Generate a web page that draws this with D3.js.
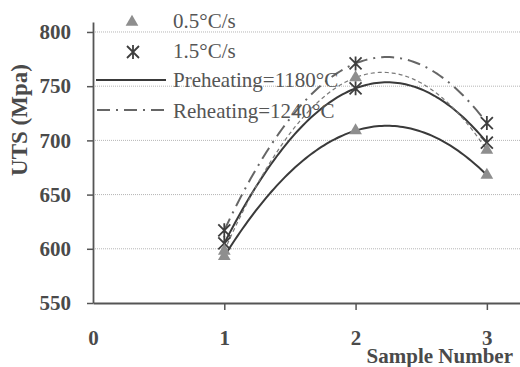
<!DOCTYPE html>
<html><head><meta charset="utf-8">
<script src="https://cdn.jsdelivr.net/npm/d3@7"></script>
<style>
html,body{margin:0;padding:0;background:#fff;}
svg, svg text{font-family:"Liberation Serif","Times New Roman",serif !important;}
</style></head>
<body><svg id="c" width="520" height="367"></svg>
<script>
const samples = [1, 2, 3];
const xTicks = [0, 1, 2, 3];
const yTicks = [550, 600, 650, 700, 750, 800];
const pre05 = [593, 709, 668];
const pre15 = [605, 748, 698];
const re05 = [598, 758, 691];
const re15 = [617, 771, 716];
const legendLabels = ["0.5\u00B0C/s", "1.5\u00B0C/s", "Preheating=1180\u00B0C", "Reheating=1240\u00B0C"];

const series = [
  {vals: pre05, marker: "tri", stroke: "#3a3a3a", width: 2, dash: null},
  {vals: pre15, marker: "star", stroke: "#3a3a3a", width: 2, dash: null},
  {vals: re05, marker: "tri", stroke: "#7a7a7a", width: 1.2, dash: "4,3"},
  {vals: re15, marker: "star", stroke: "#666", width: 2, dash: "13,6,2,6"}
];

const svg = d3.select("#c");
const x = d3.scaleLinear().domain([0, 3.26]).range([93, 521]);
const y = d3.scaleLinear().domain([550, 809.2]).range([303, 22]);

// gridlines
svg.append("g").selectAll("line").data(yTicks.filter(d => d > 550)).join("line")
  .attr("x1", x(0)).attr("x2", 520).attr("y1", d => y(d)).attr("y2", d => y(d))
  .attr("stroke", "#b5b5b5").attr("stroke-width", 1).attr("stroke-dasharray", "1,1");

// axes
const yAxis = d3.axisLeft(y).tickValues(yTicks).tickSize(6).tickSizeOuter(0).tickPadding(16).tickFormat(d3.format("d"));
const gy = svg.append("g").attr("transform", `translate(${x(0)},0)`).call(yAxis);
const xAxis = d3.axisBottom(x).tickValues(xTicks).tickSize(7).tickSizeOuter(0).tickPadding(20).tickFormat(d3.format("d"));
const gx = svg.append("g").attr("transform", `translate(0,${y(550)})`).call(xAxis);
[gx, gy].forEach(g => {
  g.attr("font-family", null);
  g.select(".domain").attr("stroke", "#555").attr("stroke-width", 1.8);
  g.selectAll(".tick line").attr("stroke", "#555").attr("stroke-width", 1.5);
  g.selectAll("text").attr("fill", "#4a4a4a").attr("font-size", 21).attr("font-weight", "bold");
});
gx.selectAll(".tick").filter(d => d === 0).select("line").remove();

// quadratic trendline through each series
function quad(xs, ys) {
  return t => {
    let s = 0;
    for (let i = 0; i < 3; i++) {
      let p = ys[i];
      for (let j = 0; j < 3; j++) if (j !== i) p *= (t - xs[j]) / (xs[i] - xs[j]);
      s += p;
    }
    return s;
  };
}
const line = d3.line().x(d => x(d[0])).y(d => y(d[1]));
series.forEach(s => {
  const f = quad(samples, s.vals);
  const pts = d3.range(0, 101).map(i => { const t = samples[0] + (samples[2] - samples[0]) * i / 100; return [t, f(t)]; });
  svg.append("path").attr("d", line(pts)).attr("fill", "none")
    .attr("stroke", s.stroke).attr("stroke-width", s.width)
    .attr("stroke-dasharray", s.dash);
});

function drawMarker(g, type, cx, cy) {
  if (type === "tri") {
    g.append("path").attr("d", d3.symbol(d3.symbolTriangle, 70)())
      .attr("transform", `translate(${cx},${cy})`).attr("fill", "#8e8e8e");
  } else {
    const r = 6;
    g.append("path").attr("d",
      `M${cx - r},${cy - r}L${cx + r},${cy + r}M${cx - r},${cy + r}L${cx + r},${cy - r}M${cx},${cy - r - 1}L${cx},${cy + r + 1}`)
      .attr("stroke", "#3e3e3e").attr("stroke-width", 1.8).attr("fill", "none");
  }
}
const mg = svg.append("g");
series.forEach(s => {
  samples.forEach((sx, i) => drawMarker(mg, s.marker, x(sx), y(s.vals[i])));
});

// legend
const lg = svg.append("g");
drawMarker(lg, "tri", 132, 22);
drawMarker(lg, "star", 133, 52);
lg.append("line").attr("x1", 96).attr("x2", 166).attr("y1", 80).attr("y2", 80)
  .attr("stroke", "#3a3a3a").attr("stroke-width", 2);
lg.append("line").attr("x1", 97).attr("x2", 166).attr("y1", 110).attr("y2", 110)
  .attr("stroke", "#666").attr("stroke-width", 1.8).attr("stroke-dasharray", "13,6,2,6");
const ly = [28, 58, 87, 118];
legendLabels.forEach((t, i) => {
  lg.append("text").attr("x", 173).attr("y", ly[i]).text(t)
    .attr("font-size", 21).attr("fill", "#555");
});

// axis titles
svg.append("text").attr("transform", "translate(27,120) rotate(-90)")
  .attr("text-anchor", "middle").attr("font-size", 23).attr("font-weight", "bold")
  .attr("fill", "#4a4a4a").text("UTS (Mpa)");
svg.append("text").attr("x", 513).attr("y", 363).attr("text-anchor", "end")
  .attr("font-size", 21).attr("font-weight", "bold").attr("fill", "#4a4a4a").text("Sample Number");
</script>
</body></html>
